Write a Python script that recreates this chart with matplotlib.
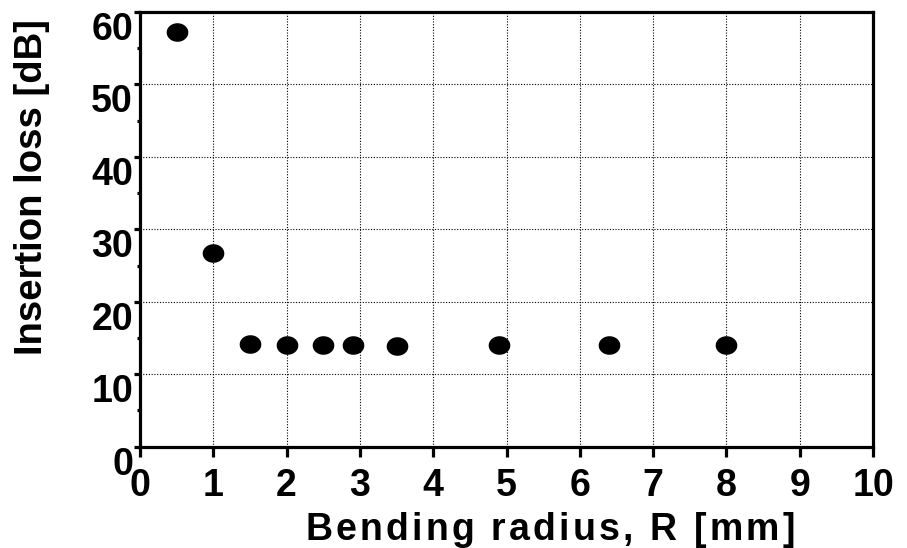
import numpy as np
import matplotlib
matplotlib.use("Agg")
import matplotlib.pyplot as plt

# data
radius_mm = [0.5, 1.0, 1.5, 2.0, 2.5, 2.9, 3.5, 4.9, 6.4, 8.0]
loss_db = [57.3, 26.8, 14.2, 14.0, 14.0, 14.0, 13.9, 14.0, 14.1, 14.0]
x_ticks = list(range(0, 11))
y_ticks = list(range(0, 61, 10))
x_title = 'Bending radius, R [mm]'
y_title = 'Insertion loss [dB]'

plt.rcParams['font.family'] = ['Liberation Sans', 'DejaVu Sans']
plt.rcParams['font.weight'] = 'bold'

W, H = 907, 548
fig = plt.figure(figsize=(W / 100, H / 100), dpi=100)
ax = fig.add_axes([140 / W, 1 - 446.7 / H, 733 / W, 434.7 / H])

# slightly wide ellipse marker, like the original dots
t = np.linspace(0, 2 * np.pi, 40)
dot = np.column_stack([1.18 * np.cos(t), np.sin(t)])
ax.plot(radius_mm, loss_db, linestyle='none', marker=dot, markersize=14.6,
        color='black', zorder=3, clip_on=False)

ax.set_xlim(0, 10)
ax.set_ylim(0, 60)
ax.set_xticks(x_ticks)
ax.set_yticks(y_ticks)
ax.set_yticks(list(range(5, 60, 10)), minor=True)
ax.grid(True, which='major', color='black', linestyle=(0, (1, 1.5)), linewidth=0.8)

for s in ax.spines.values():
    s.set_linewidth(2.3)

ax.tick_params(axis='x', which='major', direction='out', length=7, width=2.3,
               labelsize=27, pad=8)
ax.tick_params(axis='y', which='major', direction='out', length=4, width=2.3,
               labelsize=27, pad=1)
ax.tick_params(axis='y', which='minor', direction='out', length=2.5, width=2.3)

for lab in ax.get_yticklabels():
    lab.set_verticalalignment('top')


def tracked_text(s, left_px, right_px, base_px, **kw):
    # x title in the original is letter-spaced; place it glyph by glyph
    r = fig.canvas.get_renderer()

    def width(txt):
        tt = fig.text(0, 0, txt, **kw)
        e = tt.get_window_extent(r).width
        tt.remove()
        return e

    ref = width('x')
    gap = (right_px - left_px - width(s)) / (len(s) - 1)
    for i, ch in enumerate(s):
        if ch == ' ':
            continue
        x = left_px + width(s[:i] + 'x') - ref + i * gap
        fig.text(x / W, 1 - base_px / H, ch, ha='left', va='baseline', **kw)


tracked_text(x_title, 305, 795, 540, fontsize=27, fontweight='bold')
fig.text(42 / W, 1 - 187 / H, y_title, fontsize=27.5, fontweight='bold',
         rotation=90, rotation_mode='anchor', ha='center', va='baseline')

fig.savefig('out.png', dpi=100)
